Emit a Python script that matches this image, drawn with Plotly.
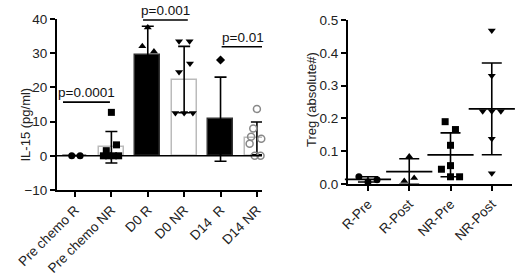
import plotly.graph_objects as go

# ---------- Left panel: IL-15 ----------
il_cats = ["Pre chemo R", "Pre chemo NR", "D0 R", "D0 NR", "D14\u00a0 R", "D14 NR"]
il_mean = [0.0, 2.5, 29.5, 22.3, 10.7, 5.1]
il_sd = [0.0, 4.6, 8.4, 9.7, 12.3, 4.8]
il_bar_fill = ["black", "white", "black", "white", "black", "white"]
il_bar_line = ["#333333", "#bbbbbb", "#333333", "#bbbbbb", "#333333", "#bbbbbb"]

il_pts = [
    [0.0, 0.0],
    [12.7, 3.2, 1.5, 0.0, 0.0, 0.0, 0.0],
    [37.5, 32.0, 30.5, 18.5],
    [33.5, 33.5, 27.0, 24.5, 12.5, 12.5, 12.5],
    [28.0, 9.0, 4.0, 1.5],
    [13.7, 8.0, 5.6, 5.0, 3.5, 0.0, 0.0],
]
il_off = [
    [-0.09, 0.14],
    [0.0, 0.14, -0.14, -0.22, -0.08, 0.06, 0.2],
    [0.0, -0.15, 0.17, 0.0],
    [-0.14, 0.15, 0.16, -0.14, -0.24, 0.0, 0.24],
    [0.0, 0.1, -0.1, 0.0],
    [0.0, -0.1, -0.16, 0.12, -0.2, -0.06, 0.1],
]
il_sym = ["circle", "square", "triangle-up", "triangle-down", "diamond", "circle-open"]
il_col = ["black", "black", "black", "black", "black", "#888888"]

sig_text = ["p=0.0001", "p=0.001", "p=0.01"]
sig_x0 = [-0.33, 1.87, 4.03]
sig_x1 = [0.96, 3.1, 5.2]
sig_y = [15.7, 39.7, 31.9]

# ---------- Right panel: Treg ----------
tr_cats = ["R-Pre", "R-Post", "NR-Pre", "NR-Post"]
tr_mean = [0.014, 0.038, 0.089, 0.229]
tr_sd = [0.008, 0.039, 0.067, 0.140]
tr_pts = [
    [0.022, 0.006, 0.013],
    [0.084, 0.009, 0.018],
    [0.19, 0.166, 0.118, 0.056, 0.045, 0.022, 0.022],
    [0.468, 0.33, 0.222, 0.222, 0.222, 0.138, 0.033],
]
tr_off = [
    [-0.22, 0.0, 0.22],
    [0.0, -0.12, 0.12],
    [-0.13, 0.12, 0.0, 0.0, -0.22, 0.0, 0.22],
    [0.0, 0.0, -0.22, 0.0, 0.22, 0.0, 0.0],
]
tr_sym = ["circle", "triangle-up", "square", "triangle-down"]

W, H = 520, 275


def px_x(p):
    return p / W


def px_y(p):
    return 1 - p / H


fig = go.Figure()

# bars
fig.add_trace(go.Bar(
    x=list(range(len(il_cats))), y=il_mean, width=0.68,
    marker=dict(color=il_bar_fill, line=dict(color=il_bar_line, width=1.5)),
    error_y=dict(type="data", array=il_sd, color="black", thickness=1.6, width=6),
    xaxis="x", yaxis="y", showlegend=False,
))
for i, (pts, offs) in enumerate(zip(il_pts, il_off)):
    open_m = il_sym[i].endswith("open")
    fig.add_trace(go.Scatter(
        x=[i + o for o in offs], y=pts, mode="markers",
        marker=dict(symbol=il_sym[i], size=7, color=il_col[i],
                    line=dict(width=1.5 if open_m else 0, color=il_col[i])),
        xaxis="x", yaxis="y", showlegend=False, cliponaxis=False,
    ))

# zero line in left panel
fig.add_shape(type="line", xref="x", yref="y", x0=-0.495, x1=5.14, y0=0, y1=0,
              line=dict(color="black", width=1.6))

# significance brackets
for t, a, b, yv in zip(sig_text, sig_x0, sig_x1, sig_y):
    fig.add_shape(type="line", xref="x", yref="y", x0=a, x1=b, y0=yv, y1=yv,
                  line=dict(color="black", width=1.6))
    fig.add_annotation(x=(a + b) / 2, y=yv, xref="x", yref="y", text=t,
                       showarrow=False, yanchor="bottom", yshift=0,
                       font=dict(family="Arial", size=13.5, color="#111"))

# right panel: points
for i, (pts, offs) in enumerate(zip(tr_pts, tr_off)):
    fig.add_trace(go.Scatter(
        x=[i + o for o in offs], y=pts, mode="markers",
        marker=dict(symbol=tr_sym[i], size=7, color="black"),
        xaxis="x2", yaxis="y2", showlegend=False, cliponaxis=False,
    ))
# mean +- SD
fig.add_trace(go.Scatter(
    x=list(range(len(tr_cats))), y=tr_mean, mode="markers",
    marker=dict(symbol="line-ew", size=33, line=dict(width=1.8, color="black")),
    error_y=dict(type="data", array=tr_sd, color="black", thickness=1.6, width=10),
    xaxis="x2", yaxis="y2", showlegend=False, cliponaxis=False,
))

tick_font = dict(family="Arial", size=13.5, color="#222")
xtick_font = dict(family="Arial", size=13.5, color="#222")
axis_common = dict(showline=True, linecolor="black", linewidth=2, ticks="outside",
                   ticklen=5, tickwidth=2, tickcolor="black", showgrid=False,
                   zeroline=False, automargin=False)

fig.update_layout(
    width=W, height=H, margin=dict(l=0, r=0, t=0, b=0),
    plot_bgcolor="white", paper_bgcolor="white", bargap=0,
    xaxis=dict(domain=[px_x(57), px_x(262)], range=[-0.495, 5.14], anchor="y",
               tickmode="array", tickvals=list(range(len(il_cats))), ticktext=il_cats,
               tickangle=-45, tickfont=xtick_font, **axis_common),
    yaxis=dict(domain=[px_y(190), px_y(19)], range=[-10, 40], anchor="x",
               tickvals=[-10, 0, 10, 20, 30, 40], tickfont=tick_font, **axis_common),
    xaxis2=dict(domain=[px_x(348), px_x(512)], range=[-0.484, 3.49], anchor="y2",
                tickmode="array", tickvals=list(range(len(tr_cats))), ticktext=tr_cats,
                tickangle=-45, tickfont=xtick_font, **axis_common),
    yaxis2=dict(domain=[px_y(184), px_y(20)], range=[0, 0.5], anchor="x2",
                tickvals=[0, 0.1, 0.2, 0.3, 0.4, 0.5], tickformat=".1f",
                tickfont=tick_font, **axis_common),
)

fig.add_annotation(x=px_x(15), y=px_y(86), xref="paper", yref="paper",
                   text="IL-15 (pg/ml)", textangle=-90, showarrow=False,
                   font=dict(family="Arial", size=13, color="#222"))
fig.add_annotation(x=px_x(311), y=px_y(100), xref="paper", yref="paper",
                   text="Treg (absolute#)", textangle=-90, showarrow=False,
                   font=dict(family="Arial", size=13, color="#222"))

fig.write_html("out.html", config={"displayModeBar": False},
               post_script="document.body.style.margin='0';document.body.style.padding='0';")
